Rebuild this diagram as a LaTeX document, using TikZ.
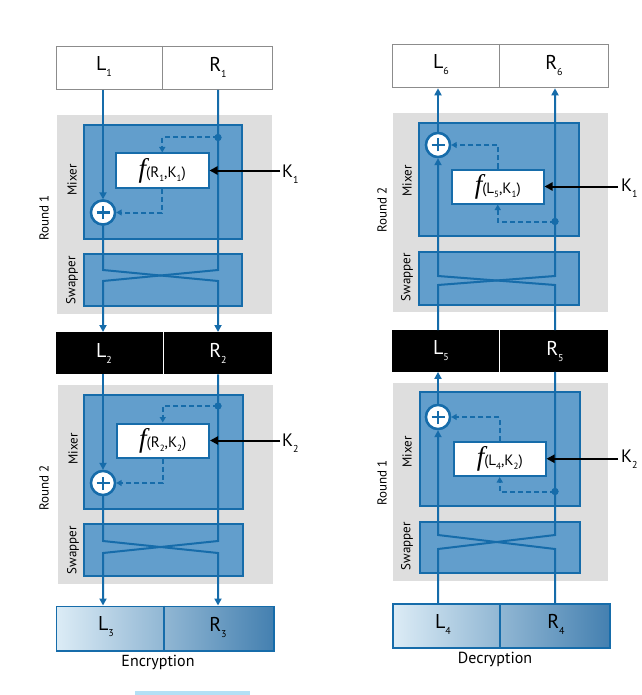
\documentclass[tikz,border=0pt]{standalone}
\usepackage{fontspec}
\setmainfont{PT Sans}
\newfontfamily\fserif{Liberation Serif}
\usetikzlibrary{arrows.meta,calc}
\definecolor{bluec}{RGB}{22,108,170}
\definecolor{mixc}{RGB}{98,158,204}
\definecolor{greyc}{RGB}{222,222,222}
\definecolor{lightc}{RGB}{220,236,246}
\definecolor{darkc}{RGB}{68,128,176}
\definecolor{barc}{RGB}{180,224,245}
\newcommand\sbs[1]{\raisebox{-0.6ex}{\fontsize{10}{10}\selectfont #1}}
\newcommand\fsbs[1]{\raisebox{-0.6ex}{\fontsize{9}{9}\selectfont #1}}
\newcommand\ftext[2]{{\fontsize{27}{27}\selectfont\fserif\itshape f}{\fontsize{15}{15}\selectfont(#1,#2)}}
\tikzset{
  box/.style={rectangle,inner sep=0,anchor=north west},
  greybox/.style={box,fill=greyc},
  mixbox/.style={box,fill=mixc,draw=bluec,line width=2},
  fbox/.style={rectangle,inner sep=0,fill=white,draw=bluec,line width=2},
  whitebox/.style={box,fill=white,draw=black!45,line width=0.8},
  blackbox/.style={box,fill=black},
  gradbox/.style={box,left color=lightc,right color=darkc,draw=bluec,line width=1.8},
  bus/.style={draw=bluec,line width=2},
  tip/.style={-{Triangle[length=7,width=7]}},
  dline/.style={draw=bluec,line width=2,dash pattern=on 5pt off 3pt,-{Triangle[length=5.5,width=6]}},
  keyarrow/.style={draw=black,line width=2,-{Triangle[length=8,width=8]}},
  xor/.style={circle,draw=bluec,fill=white,line width=2.4,minimum size=24,inner sep=0},
  dotn/.style={circle,fill=bluec,inner sep=0,minimum size=7},
  lbl/.style={font=\fontsize{20}{20}\selectfont,inner sep=0},
  side/.style={font=\fontsize{13}{13}\selectfont,rotate=90,inner sep=0},
  keylbl/.style={font=\fontsize{18}{18}\selectfont,anchor=west,inner sep=0},
  caplbl/.style={font=\fontsize{16}{16}\selectfont,inner sep=0},
}
\newcommand\xorplus[1]{\draw[bluec,line width=2.4] ([xshift=-6.5]#1.center) -- ([xshift=6.5]#1.center) ([yshift=-6.5]#1.center) -- ([yshift=6.5]#1.center);}
\begin{document}
\begin{tikzpicture}[x=1pt,y=-1pt]
\useasboundingbox (0,0) rectangle (641,695);
\fill[white] (0,0) rectangle (641,695);
\node[box,fill=barc,minimum width=115,minimum height=4] (bar) at (135,691) {};

%%%%%%%%%%%%%%%% ENCRYPTION %%%%%%%%%%%%%%%%
\coordinate (eL) at (103,0);
\coordinate (eR) at (218,0);
% top box
\node[whitebox,minimum width=216,minimum height=43] (topE) at (55.5,46) {};
\draw[black!45,line width=0.8] (162.5,46) -- (162.5,89);
\node[lbl] (tEL) at (104,67) {L\sbs{1}};
\node[lbl] (tER) at (218,67) {R\sbs{1}};
% round 1
\node[greybox,minimum width=215,minimum height=199] (gE1) at (57,115) {};
\node[mixbox,minimum width=158.5,minimum height=113] (mE1) at (82.5,124.5) {};
\node[mixbox,minimum width=158.5,minimum height=52.5] (sE1) at (82.5,252.5) {};
\node[fbox,minimum width=92.5,minimum height=34] (fE1) at (162.25,170.5) {\ftext{R\fsbs{1}}{K\fsbs{1}}};
\node[side] (rE1) at (44,218) {Round 1};
\node[side] (mxE1) at (72,180) {Mixer};
\node[side] (swE1) at (72,280) {Swapper};
% black box
\node[blackbox,minimum width=216,minimum height=42] (midE) at (55.5,332) {};
\draw[white,line width=1] (163,332) -- (163,374);
\node[lbl,white] (mEL) at (104,353) {L\sbs{2}};
\node[lbl,white] (mER) at (218,353) {R\sbs{2}};
% round 2
\node[greybox,minimum width=215,minimum height=198.5] (gE2) at (57.5,385) {};
\node[mixbox,minimum width=159,minimum height=113.5] (mE2) at (83,394) {};
\node[mixbox,minimum width=159,minimum height=51.5] (sE2) at (83,523) {};
\node[fbox,minimum width=92.5,minimum height=34] (fE2) at (162.75,440.5) {\ftext{R\fsbs{2}}{K\fsbs{2}}};
\node[side] (rE2) at (44,488) {Round 2};
\node[side] (mxE2) at (73,449) {Mixer};
\node[side] (swE2) at (73,550) {Swapper};
% bottom
\node[gradbox,minimum width=217.5,minimum height=44.5] (botE) at (55.5,605.5) {};
\draw[bluec,line width=1.5] (164,605.5) -- (164,650);
\node[lbl] (bEL) at (106,627) {L\sbs{3}};
\node[lbl] (bER) at (218,627) {R\sbs{3}};
\node[caplbl] (capE) at (158,662) {Encryption};

% XORs and dots
\node[xor] (xE1) at (103,212.5) {};
\node[dotn] (dE1) at (218,137.5) {};
\node[xor] (xE2) at (103,483) {};
\node[dotn] (dE2) at (218,406) {};

% buses round 1
\draw[bus,tip] (eL |- topE.south) -- (xE1.north);
\draw[bus,tip] (xE1.south) -- (103,270) -- (218,281) -- (eR |- midE.north);
\draw[bus,tip] (eR |- topE.south) -- (dE1.center) -- (218,270) -- (103,281) -- (eL |- midE.north);
% buses round 2
\draw[bus,tip] (eL |- midE.south) -- (xE2.north);
\draw[bus,tip] (xE2.south) -- (103,541) -- (218,553) -- (eR |- botE.north);
\draw[bus,tip] (eR |- midE.south) -- (dE2.center) -- (218,541) -- (103,553) -- (eL |- botE.north);
\node[xor] at (xE1) {};\xorplus{xE1}
\node[xor] at (xE2) {};\xorplus{xE2}
\node[dotn] at (dE1) {};
\node[dotn] at (dE2) {};
% dashed
\draw[dline] (dE1.center) -| (fE1.north);
\draw[dline] (fE1.south) |- (xE1.east);
\draw[dline] (dE2.center) -| (fE2.north);
\draw[dline] (fE2.south) |- (xE2.east);
% keys
\node[keylbl] (kE1) at (282,174) {K\sbs{1}};
\node[keylbl] (kE2) at (282,443) {K\sbs{2}};
\draw[keyarrow] ([xshift=-2]kE1.west |- fE1.east) -- (fE1.east);
\draw[keyarrow] ([xshift=-2]kE2.west |- fE2.east) -- (fE2.east);

%%%%%%%%%%%%%%%% DECRYPTION %%%%%%%%%%%%%%%%
\coordinate (dL) at (438,0);
\coordinate (dR) at (555,0);
\node[whitebox,minimum width=216,minimum height=43.5] (topD) at (391.5,44) {};
\draw[black!45,line width=0.8] (499,44) -- (499,87.5);
\node[lbl] (tDL) at (441,65) {L\sbs{6}};
\node[lbl] (tDR) at (554,65) {R\sbs{6}};
% round 2 (upper)
\node[greybox,minimum width=214.5,minimum height=199] (gD2) at (393,113) {};
\node[mixbox,minimum width=159.5,minimum height=112.5] (mD2) at (418,122.5) {};
\node[mixbox,minimum width=159.5,minimum height=53] (sD2) at (418,250.5) {};
\node[fbox,minimum width=91.5,minimum height=34] (fD2) at (497.75,186.5) {\ftext{L\fsbs{5}}{K\fsbs{1}}};
\node[side] (rD2) at (382,210) {Round 2};
\node[side] (mxD2) at (407,181) {Mixer};
\node[side] (swD2) at (407,277) {Swapper};
% black box
\node[blackbox,minimum width=215.5,minimum height=41.5] (midD) at (392,330) {};
\draw[white,line width=1] (499,330) -- (499,371.5);
\node[lbl,white] (mDL) at (441,351) {L\sbs{5}};
\node[lbl,white] (mDR) at (555,351) {R\sbs{5}};
% round 1 (lower)
\node[greybox,minimum width=214.5,minimum height=197.5] (gD1) at (393,383) {};
\node[mixbox,minimum width=160,minimum height=114] (mD1) at (419,391) {};
\node[mixbox,minimum width=160,minimum height=50.5] (sD1) at (419,521) {};
\node[fbox,minimum width=91.5,minimum height=34.5] (fD1) at (499.75,458.75) {\ftext{L\fsbs{4}}{K\fsbs{2}}};
\node[side] (rD1) at (382,483) {Round 1};
\node[side] (mxD1) at (407,452) {Mixer};
\node[side] (swD1) at (407,546) {Swapper};
% bottom
\node[gradbox,minimum width=217,minimum height=44] (botD) at (392,603) {};
\draw[bluec,line width=1.5] (500,603) -- (500,647);
\node[lbl] (bDL) at (443,624) {L\sbs{4}};
\node[lbl] (bDR) at (556,624) {R\sbs{4}};
\node[caplbl] (capD) at (495,659) {Decryption};

\node[xor] (xD2) at (438,145) {};
\node[dotn] (dD2) at (555,221.5) {};
\node[xor] (xD1) at (438,417) {};
\node[dotn] (dD1) at (555,491.5) {};

% buses round 1 (lower)
\draw[bus] (dL |- botD.north) -- (438,549) -- (555,535) -- (dD1.center) -- (dR |- midD.south);
\draw[bus,tip] (dR |- botD.north) -- (555,549) -- (438,535) -- (xD1.south);
\draw[bus,tip] (xD1.north) -- (dL |- midD.south);
% buses round 2 (upper)
\draw[bus,tip] (dL |- midD.north) -- (438,285) -- (555,276) -- (dD2.center) -- (dR |- topD.south);
\draw[bus,tip] (dR |- midD.north) -- (555,285) -- (438,276) -- (xD2.south);
\draw[bus,tip] (xD2.north) -- (dL |- topD.south);
\node[xor] at (xD1) {};\xorplus{xD1}
\node[xor] at (xD2) {};\xorplus{xD2}
\node[dotn] at (dD1) {};
\node[dotn] at (dD2) {};
% dashed
\draw[dline] (dD2.center) -| (fD2.south);
\draw[dline] (fD2.north) |- (xD2.east);
\draw[dline] (dD1.center) -| (fD1.south);
\draw[dline] (fD1.north) |- (xD1.east);
% keys
\node[keylbl] (kD1) at (621,188) {K\sbs{1}};
\node[keylbl] (kD2) at (621,459) {K\sbs{2}};
\draw[keyarrow] ([xshift=-3]kD1.west |- fD2.east) -- (fD2.east);
\draw[keyarrow] ([xshift=-3]kD2.west |- fD1.east) -- (fD1.east);
\end{tikzpicture}
\end{document}
